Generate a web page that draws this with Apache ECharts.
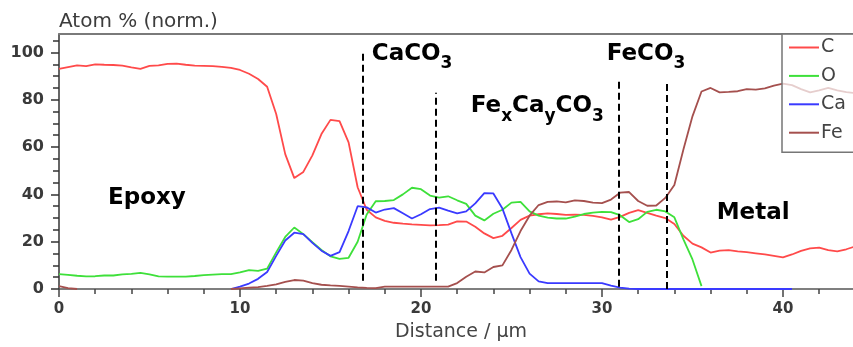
<!DOCTYPE html>
<html>
<head>
<meta charset="utf-8">
<title>Atom % depth profile</title>
<script src="https://cdn.jsdelivr.net/npm/echarts@6/dist/echarts.min.js"></script>
<style>
  html, body { margin: 0; padding: 0; background: #fff; }
  #chart { width: 853px; height: 347px; }
</style>
</head>
<body>
<div id="chart"></div>
<script>
// Sampling positions along the line scan (µm)
const distance = [
  0, 0.5, 1, 1.5, 2, 2.5, 3, 3.5, 4, 4.5, 5, 5.5, 6, 6.5, 7, 7.5, 8, 8.5, 9, 9.5,
  10, 10.5, 11, 11.5, 12, 12.5, 13, 13.5, 14, 14.5, 15, 15.5, 16, 16.5, 17, 17.5, 18, 18.5, 19, 19.5,
  20, 20.5, 21, 21.5, 22, 22.5, 23, 23.5, 24, 24.5, 25, 25.5, 26, 26.5, 27, 27.5, 28, 28.5, 29, 29.5,
  30, 30.5, 31, 31.5, 32, 32.5, 33, 33.5, 34, 34.5, 35, 35.5, 36, 36.5, 37, 37.5, 38, 38.5, 39, 39.5,
  40, 40.5, 41, 41.5, 42, 42.5, 43, 43.5, 44
];

// Normalised atom % per element
const carbon = [
  93.1, 93.8, 94.5, 94.2, 95.0, 94.8, 94.7, 94.4, 93.7, 93.1, 94.3, 94.5, 95.2, 95.3, 94.8, 94.4, 94.3, 94.2, 93.9, 93.5,
  92.6, 91.0, 88.8, 85.5, 74.0, 57.0, 46.9, 49.5, 56.5, 65.5, 71.5, 71.0, 62.0, 43.0, 33.5, 30.3, 28.8, 28.0, 27.6, 27.3,
  27.1, 26.9, 27.0, 27.2, 28.6, 28.5, 26.3, 23.5, 21.5, 22.5, 25.8, 29.2, 31.0, 31.6, 32.0, 31.7, 31.3, 31.4, 31.3, 30.9,
  30.3, 29.3, 30.5, 32.2, 33.3, 32.2, 31.0, 30.0, 27.5, 22.5, 19.2, 17.6, 15.4, 16.2, 16.4, 15.9, 15.6, 15.1, 14.6, 14.0,
  13.4, 14.6, 16.1, 17.2, 17.5, 16.4, 15.9, 16.8, 18.0
];
const oxygen = [
  6.3, 6.0, 5.6, 5.3, 5.4, 5.7, 5.7, 6.2, 6.4, 6.8, 6.2, 5.3, 5.2, 5.2, 5.2, 5.5, 5.9, 6.1, 6.3, 6.3,
  7.0, 8.0, 7.7, 8.6, 15.5, 22.0, 26.0, 23.2, 19.8, 16.5, 13.8, 12.7, 13.2, 20.0, 31.5, 37.1, 37.2, 37.6, 40.0, 42.8,
  42.2, 39.5, 38.6, 39.2, 37.5, 36.0, 31.0, 29.0, 31.8, 33.5, 36.5, 36.8, 32.8, 31.0, 30.2, 29.8, 29.8, 30.6, 31.7, 32.3,
  32.6, 32.5, 31.2, 28.3, 29.5, 32.6, 33.5, 32.8, 30.3, 21.0, 12.5, 1.2, null, null, null, null, null, null, null, null,
  null, null, null, null, null, null, null, null, null
];
const calcium = [
  null, null, null, null, null, null, null, null, null, null, null, null, null, null, null, null, null, null, null, 0,
  1.0, 2.3, 4.3, 7.2, 14.0, 20.5, 23.8, 23.2, 19.5, 16.2, 14.0, 15.6, 24.5, 35.0, 34.5, 32.3, 33.6, 34.2, 32.0, 29.8,
  31.6, 33.8, 34.4, 33.1, 32.0, 32.8, 36.2, 40.5, 40.4, 34.0, 23.5, 13.5, 6.5, 3.2, 2.5, 2.5, 2.5, 2.5, 2.5, 2.5,
  2.5, 1.4, 0.6, 0.2, 0, 0, 0, 0, 0, 0, 0, 0, 0, 0, 0, 0, 0, 0, 0, 0,
  0, 0, null, null, null, null, null, null, null
];
const iron = [
  1.2, 0.4, 0, null, null, null, null, null, null, null, null, null, null, null, null, null, null, null, null, 0,
  0.3, 0.6, 0.8, 1.3, 2.0, 3.0, 3.8, 3.5, 2.5, 1.8, 1.5, 1.3, 1.0, 0.7, 0.5, 0.4, 1.0, 1.0, 1.0, 1.0,
  1.0, 1.0, 1.0, 1.0, 2.5, 5.2, 7.4, 7.0, 9.3, 10.0, 16.5, 24.5, 31.0, 35.5, 36.8, 37.0, 36.6, 37.5, 37.2, 36.5,
  36.3, 37.8, 40.7, 41.0, 37.2, 35.2, 35.3, 38.5, 44.0, 59.0, 73.0, 83.5, 85.0, 83.1, 83.3, 83.6, 84.5, 84.3, 84.8, 86.0,
  86.8, 86.2, 84.5, 83.1, 84.0, 85.0, 84.0, 83.2, 82.8
];

const elements = ['C', 'O', 'Ca', 'Fe'];
const profiles = [carbon, oxygen, calcium, iron];
const colors = ['#ff4a4a', '#3ee03a', '#3a3aff', '#a5504e'];

// Axis tick values
const xLabels = [0, 10, 20, 30, 40];
const xMinor = [2, 4, 6, 8, 12, 14, 16, 18, 22, 24, 26, 28, 32, 34, 36, 38, 42];
const yLabels = [0, 20, 40, 60, 80, 100];
const yMinor = [5, 10, 15, 25, 30, 35, 45, 50, 55, 65, 70, 75, 85, 90, 95, 105];

// Phase boundaries (distance, dashed from..to atom %)
const boundaries = [
  [16.8, 3.5, 100.8],
  [20.8, 3.5, 83.0],
  [30.9, 1.0, 89.3],
  [33.6, 0, 87.7]
];

const X_MAX = 43.87, Y_MAX = 107.8;
const FONT = 'DejaVu Sans';

const chart = echarts.init(document.getElementById('chart'), null, { renderer: 'canvas' });

const pair = (arr) => distance.map((d, i) => [d, arr[i]]);

const tagRich = {
  m: { fontSize: 23, fontWeight: 'bold', fontFamily: FONT, color: '#000' },
  s: { fontSize: 17, fontWeight: 'bold', fontFamily: FONT, color: '#000', padding: [20, 0, 0, 0] }
};
const tags = [
  { coord: [2.71, 38.6], text: '{m|Epoxy}' },
  { coord: [17.28, 99.5], text: '{m|CaCO}{s|3}' },
  { coord: [22.75, 77.3], text: '{m|Fe}{s|x}{m|Ca}{s|y}{m|CO}{s|3}' },
  { coord: [30.26, 99.5], text: '{m|FeCO}{s|3}' },
  { coord: [36.34, 32.3], text: '{m|Metal}' }
];

const series = elements.map((name, k) => ({
  name,
  type: 'line',
  data: pair(profiles[k]),
  symbol: 'none',
  smooth: false,
  connectNulls: false,
  lineStyle: { color: colors[k], width: 1.8 },
  itemStyle: { color: colors[k] },
  z: 2,
  animation: false
}));

series[3].markLine = {
  silent: true,
  symbol: ['none', 'none'],
  animation: false,
  label: { show: false },
  lineStyle: { color: '#000', type: [7, 4], width: 2 },
  data: boundaries.map(b => [{ coord: [b[0], b[1]] }, { coord: [b[0], b[2]] }])
};
series[3].markPoint = {
  silent: true,
  symbol: 'circle',
  symbolSize: 0,
  animation: false,
  itemStyle: { color: 'transparent' },
  label: { show: true, position: 'right', distance: 0, rich: tagRich },
  data: tags.map(t => ({ coord: t.coord, label: { formatter: t.text } }))
};

const hidden = { show: false };

chart.setOption({
  animation: false,
  backgroundColor: '#fff',
  grid: { left: 59, right: 0, top: 34, bottom: 58, containLabel: false, outerBoundsMode: 'none' },
  legend: {
    data: elements,
    orient: 'vertical',
    left: 782,
    top: 34,
    padding: [4, 34, 10, 7],
    icon: 'rect',
    itemWidth: 30,
    itemHeight: 2,
    itemGap: 9.4,
    backgroundColor: 'rgba(255,255,255,0.72)',
    borderColor: '#767676',
    borderWidth: 1.5,
    borderRadius: 0,
    z: 5,
    textStyle: { fontFamily: FONT, fontSize: 19, color: '#444', padding: [0, 0, 0, -3] }
  },
  xAxis: [
    {
      type: 'value', min: 0, max: X_MAX, position: 'bottom',
      name: 'Distance / µm', nameLocation: 'middle', nameGap: 34,
      nameTextStyle: { fontFamily: FONT, fontSize: 19, color: '#444', padding: [0, 0, 0, 10] },
      axisLine: { show: true, lineStyle: { color: '#555', width: 1.5 } },
      axisTick: { show: true, length: 8, customValues: xLabels, lineStyle: { color: '#444', width: 1.5 } },
      axisLabel: { show: true, customValues: xLabels, margin: 13, fontFamily: FONT, fontSize: 15, fontWeight: 'bold', color: '#3a3a3a' },
      splitLine: hidden
    },
    {
      type: 'value', min: 0, max: X_MAX, position: 'bottom',
      axisLine: hidden,
      axisTick: { show: true, length: 5, customValues: xMinor, lineStyle: { color: '#444', width: 1.5 } },
      axisLabel: hidden, splitLine: hidden
    },
    {
      type: 'value', min: 0, max: X_MAX, position: 'top',
      axisLine: { show: true, lineStyle: { color: '#7a7a7a', width: 2 } },
      axisTick: hidden, axisLabel: hidden, splitLine: hidden
    }
  ],
  yAxis: [
    {
      type: 'value', min: 0, max: Y_MAX, position: 'left',
      name: 'Atom % (norm.)', nameLocation: 'end', nameGap: 12,
      nameTextStyle: { fontFamily: FONT, fontSize: 20, color: '#3c3c3c', align: 'left', verticalAlign: 'middle' },
      axisLine: { show: true, lineStyle: { color: '#333', width: 1.5 } },
      axisTick: { show: true, length: 8, customValues: yLabels, lineStyle: { color: '#333', width: 1.5 } },
      axisLabel: { show: true, customValues: yLabels, margin: 15, fontFamily: FONT, fontSize: 16, fontWeight: 'bold', color: '#3a3a3a' },
      splitLine: hidden
    },
    {
      type: 'value', min: 0, max: Y_MAX, position: 'left',
      axisLine: hidden,
      axisTick: { show: true, length: 6, customValues: yMinor, lineStyle: { color: '#333', width: 1.5 } },
      axisLabel: hidden, splitLine: hidden
    }
  ],
  series
});
</script>
</body>
</html>
